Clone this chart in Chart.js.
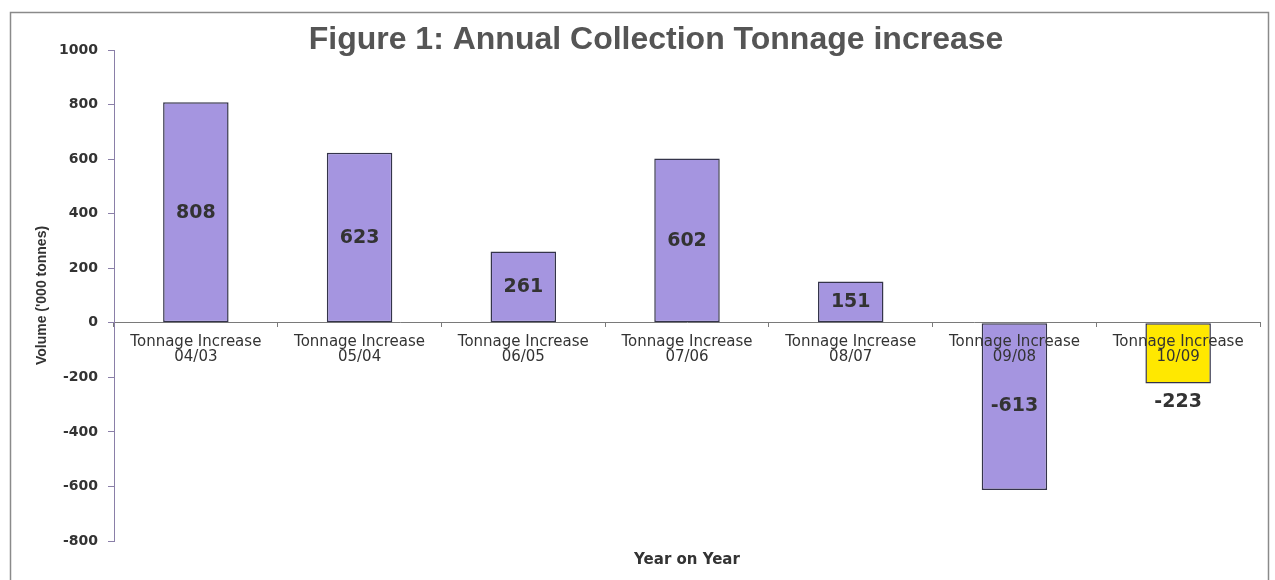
<!DOCTYPE html>
<html>
<head>
<meta charset="utf-8">
<title>Annual Collection Tonnage increase</title>
<script src="https://cdn.jsdelivr.net/npm/chart.js@4.4.1/dist/chart.umd.min.js"></script>
<style>
  html, body { margin: 0; padding: 0; background: #ffffff; }
  #wrap { width: 1275px; height: 580px; position: relative; }
</style>
</head>
<body>
<div id="wrap"><canvas id="tonnageChart" width="1275" height="580"></canvas></div>
<script>
// categories and year-on-year changes ('000 tonnes)
const periods = ['04/03', '05/04', '06/05', '07/06', '08/07', '09/08', '10/09'];
const categoryLabels = periods.map(p => ['Tonnage Increase', p]);
const tonnageChange = [808, 623, 261, 602, 151, -613, -223];
const barColours = ['#a595e0', '#a595e0', '#a595e0', '#a595e0', '#a595e0', '#a595e0', '#ffe800'];
const yTicks = [1000, 800, 600, 400, 200, 0, -200, -400, -600, -800];

const textGrey = '#333333';
const wideFont = '"DejaVu Sans", Verdana, sans-serif';
const arialFont = '"Liberation Sans", Arial, sans-serif';

// frame round the figure and the big title
const framePlugin = {
    id: 'frame',
    beforeDraw(chart) {
        const ctx = chart.ctx;
        ctx.save();
        ctx.fillStyle = '#ffffff';
        ctx.fillRect(0, 0, chart.width, chart.height);
        ctx.strokeStyle = '#8a8a8a';
        ctx.lineWidth = 1.5;
        ctx.strokeRect(10.5, 12.5, 1258, 600);
        ctx.restore();
    },
    afterDraw(chart) {
        const ctx = chart.ctx;
        ctx.save();
        ctx.font = 'bold 32px ' + arialFont;
        ctx.fillStyle = '#555555';
        ctx.textAlign = 'center';
        ctx.textBaseline = 'middle';
        ctx.fillText('Figure 1: Annual Collection Tonnage increase', 656, 40);
        ctx.restore();
    }
};

// value labels: middle of the bar, the last one just past its end
const valueLabels = {
    id: 'valueLabels',
    afterDatasetsDraw(chart) {
        const ctx = chart.ctx;
        const meta = chart.getDatasetMeta(0);
        const zero = chart.scales.y.getPixelForValue(0);
        ctx.save();
        ctx.font = 'bold 19px ' + wideFont;
        ctx.fillStyle = textGrey;
        ctx.textAlign = 'center';
        ctx.textBaseline = 'middle';
        meta.data.forEach((bar, i) => {
            let y = (bar.y + zero) / 2;
            if (i === tonnageChange.length - 1) y = bar.y + 18;
            ctx.fillText(String(tonnageChange[i]), bar.x, y);
        });
        ctx.restore();
    }
};

const ctx = document.getElementById('tonnageChart').getContext('2d');
new Chart(ctx, {
    type: 'bar',
    data: {
        labels: categoryLabels,
        datasets: [{
            data: tonnageChange,
            backgroundColor: barColours,
            borderColor: '#34344a',
            borderWidth: 1.5,
            borderSkipped: false,
            categoryPercentage: 1,
            barPercentage: 0.4
        }]
    },
    options: {
        responsive: false,
        animation: false,
        layout: { padding: { top: 50, right: 15, bottom: 11, left: 0 } },
        plugins: {
            legend: { display: false },
            tooltip: { enabled: false }
        },
        scales: {
            x: {
                position: { y: 0 },
                offset: true,
                grid: { display: true, drawOnChartArea: false, drawTicks: true, tickLength: 4, color: '#7a7a7a' },
                border: { display: true, color: '#7a7a7a', width: 1 },
                ticks: {
                    z: 1,
                    color: textGrey,
                    font: { family: wideFont, size: 15, lineHeight: 1.0 },
                    padding: 8,
                    maxRotation: 0,
                    autoSkip: false
                }
            },
            xTitle: {
                type: 'category',
                labels: categoryLabels,
                position: 'bottom',
                grid: { display: false },
                border: { display: false },
                ticks: { display: false },
                title: {
                    display: true,
                    text: 'Year on Year',
                    color: textGrey,
                    font: { family: wideFont, size: 15, weight: 'bold' },
                    padding: 0
                },
                afterFit(scale) { scale.height = 28; }
            },
            y: {
                min: -800,
                max: 1000,
                afterBuildTicks(scale) { scale.ticks = yTicks.map(v => ({ value: v })); },
                grid: { display: true, drawOnChartArea: false, drawTicks: true, tickLength: 6, color: '#8a7fa8' },
                border: { display: true, color: '#8a7fa8', width: 1 },
                ticks: {
                    color: textGrey,
                    font: { family: wideFont, size: 14, weight: 'bold' },
                    padding: 10,
                    callback: v => String(v)
                },
                title: {
                    display: true,
                    text: "Volume ('000 tonnes)",
                    color: textGrey,
                    font: { family: arialFont, size: 14, weight: 'bold' },
                    padding: { top: 34, bottom: 0 }
                },
                afterFit(scale) { scale.width = 114; }
            }
        }
    },
    plugins: [framePlugin, valueLabels]
});
</script>
</body>
</html>
